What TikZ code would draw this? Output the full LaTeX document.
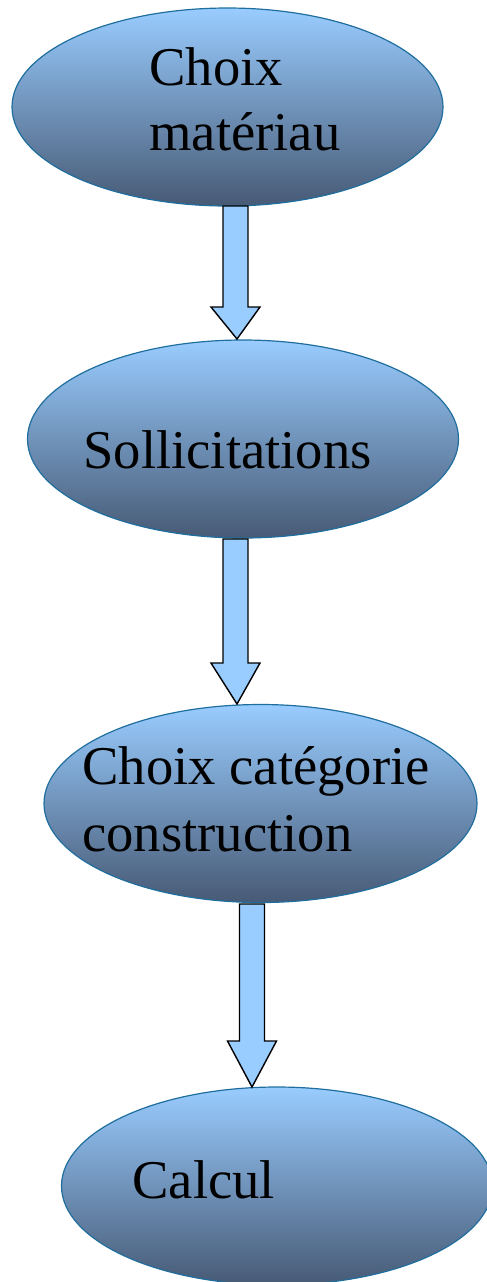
\documentclass[tikz,border=0pt]{standalone}
\usepackage{fontspec}
\setmainfont{Liberation Serif}
\usetikzlibrary{shapes.geometric,calc}
\definecolor{eltop}{HTML}{99CCFF}
\definecolor{elbot}{HTML}{475A75}
\definecolor{eledge}{HTML}{1F6E9E}
\definecolor{arrfill}{HTML}{99CCFF}
\newcommand\blockarr[3]{%
  \draw[blockarrow] let \p1=(#1), \p2=(#2) in
  (\x1-6.25pt,\y1) -- (\x1-6.25pt,\y2+#3) -- (\x1-12.25pt,\y2+#3) -- (\x2,\y2)
  -- (\x1+12.25pt,\y2+#3) -- (\x1+6.25pt,\y2+#3) -- (\x1+6.25pt,\y1) -- cycle;}
\begin{document}
\begin{tikzpicture}[x=0.5pt,y=-0.5pt,
  bubble/.style={ellipse, draw=eledge, line width=0.6pt, top color=eltop, bottom color=elbot,
    minimum width=215.5pt, minimum height=99pt, inner sep=0pt},
  txt/.style={anchor=base west, inner sep=0pt, font=\fontsize{27.3}{32}\selectfont},
  blockarrow/.style={draw=black, fill=arrfill, line width=0.7pt, line join=miter}]
\useasboundingbox (0,0) rectangle (487,1282);
\clip (0,0) rectangle (487,1282);
\node[bubble] (e1) at (227.5,107) {};
\node[bubble] (e2) at (243,439) {};
\node[bubble, minimum width=216.5pt] (e3) at (260.5,803.5) {};
\node[bubble] (e4) at (277,1186) {};
\node[txt] (t1a) at (149,85) {Choix};
\node[txt] (t1b) at (149,150) {matériau};
\node[txt] (t2) at (83,468) {Sollicitations};
\node[txt] (t3a) at (82,784) {Choix catégorie};
\node[txt] (t3b) at (82,851) {construction};
\node[txt] (t4) at (132,1198) {Calcul};
\coordinate (a1s) at (235.5,206);
\coordinate (a1e) at (237,339);
\coordinate (a2s) at (235.5,539);
\coordinate (a2e) at (237,704);
\coordinate (a3s) at (252,904);
\coordinate (a3e) at (252,1087);
\blockarr{a1s}{a1e}{16pt}
\blockarr{a2s}{a2e}{20.5pt}
\blockarr{a3s}{a3e}{23pt}
\end{tikzpicture}
\end{document}
